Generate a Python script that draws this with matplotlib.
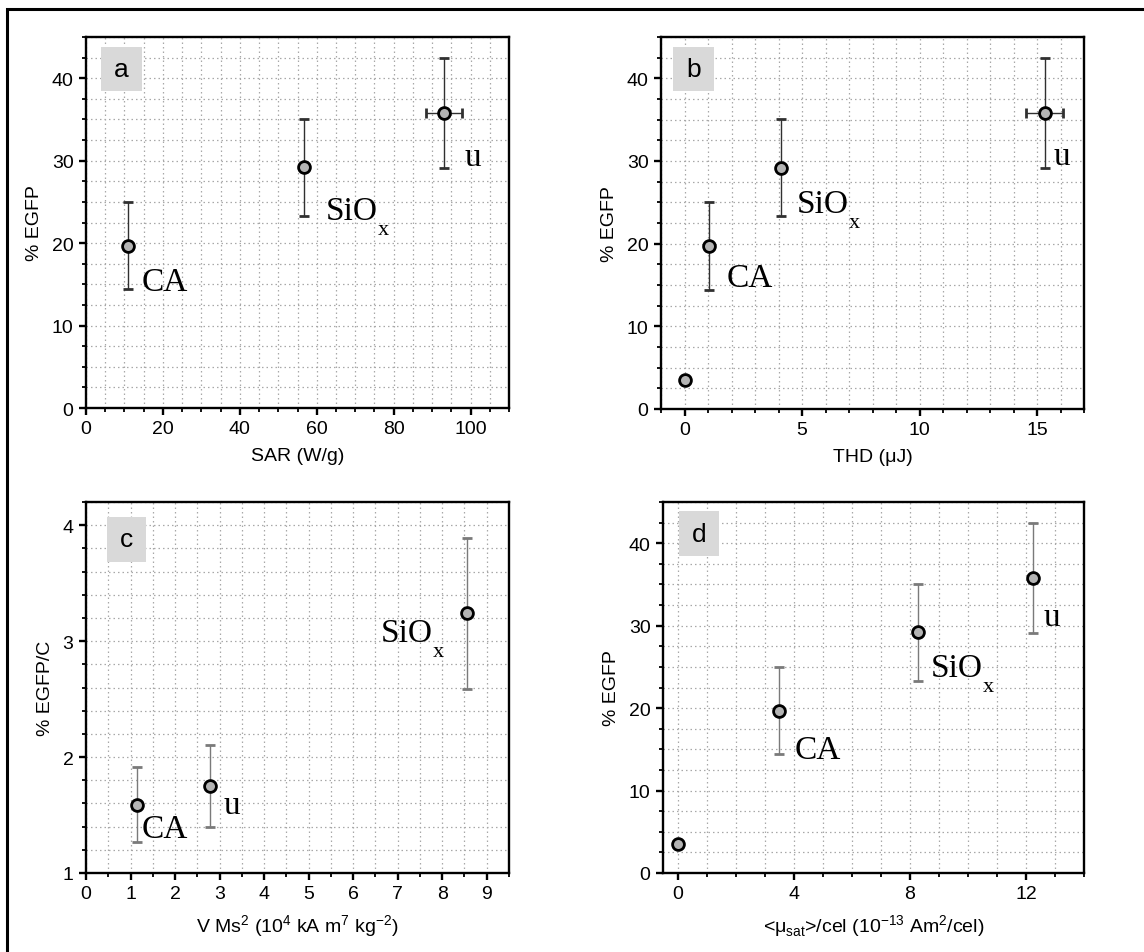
import matplotlib
matplotlib.use("Agg")
import matplotlib.pyplot as plt
from matplotlib.patches import Rectangle
from matplotlib.ticker import MultipleLocator
import numpy as np

plt.rcParams['font.family'] = ['Liberation Sans', 'DejaVu Sans']

# ---- data ----
names = ['CA', 'SiO', 'u']
subs = ['', 'x', '']

# a: SAR
sar = [10.8, 56.7, 93.1]
sar_xerr = [0, 0, 4.7]
egfp = [19.7, 29.2, 35.8]
egfp_err = [5.3, 5.9, 6.7]

# control point (no particles) shown in b and d
egfp_ctrl = 3.5

# b: THD
thd = [1.06, 4.1, 15.33]
thd_xerr = [0, 0, 0.78]

# c: V Ms^2
vms2 = [1.14, 8.55, 2.79]
egfp_c = [1.59, 3.24, 1.75]
egfp_c_err = [0.32, 0.65, 0.35]

# d: <mu_sat>/cel
mu_cel = [3.49, 8.28, 12.23]

W, H = 1144, 953
fig = plt.figure(figsize=(W / 100, H / 100), dpi=100)

# outer frame (cut at right and bottom like the original)
fig.patches.append(Rectangle((7 / W, -0.1), 1.2, 1 - 9.5 / H + 0.1,
                             transform=fig.transFigure, fill=False,
                             lw=2.2, ec='black', zorder=0))

SERIF = ['Liberation Serif', 'DejaVu Serif']


def px_axes(l, t, r, b):
    return fig.add_axes([l / W, 1 - b / H, (r - l) / W, (b - t) / H])


def style(ax, xlim, ylim, xmaj, xmin, ymaj, ymin, xlabel, ylabel, letter, box):
    ax.set_xlim(*xlim)
    ax.set_ylim(*ylim)
    ax.xaxis.set_major_locator(MultipleLocator(xmaj))
    ax.xaxis.set_minor_locator(MultipleLocator(xmin))
    ax.yaxis.set_major_locator(MultipleLocator(ymaj))
    ax.yaxis.set_minor_locator(MultipleLocator(ymin))
    ax.set_axisbelow(True)
    ax.grid(which='both', linestyle=(0, (1.2, 2.4)), color='#a8a8a8', lw=0.9)
    for s in ax.spines.values():
        s.set_linewidth(1.7)
    ax.tick_params(which='both', direction='out', top=False, right=False,
                   labelsize=14, pad=4)
    ax.tick_params(which='major', length=5, width=1.7)
    ax.tick_params(which='minor', length=3, width=1.3)
    ax.set_xlabel(xlabel, fontsize=14, labelpad=7)
    ax.set_ylabel(ylabel, fontsize=14, labelpad=6)
    x0, y0, x1, y1 = box
    ax.add_patch(Rectangle((x0, y0), x1 - x0, y1 - y0, transform=ax.transAxes,
                           fc='#d9d9d9', ec='none', zorder=3))
    ax.text((x0 + x1) / 2, (y0 + y1) / 2, letter, transform=ax.transAxes,
            ha='center', va='center', fontsize=19, zorder=4)


def points(ax, x, y, yerr, xerr=None, ecolor='#303030'):
    ax.errorbar(x, y, yerr=yerr, xerr=xerr, fmt='o', ms=8.5, mfc='#b4b4b4',
                mec='black', mew=2, ecolor=ecolor, elinewidth=1.0,
                capsize=3.5, capthick=1.0, zorder=5)


def labels(ax, x, y, offsets):
    for name, sub, xi, yi, off in zip(names, subs, x, y, offsets):
        ax.annotate(name, (xi, yi), xytext=off, textcoords='offset pixels',
                    ha='left', va='baseline', fontsize=24, family=SERIF,
                    zorder=6)
        if sub:
            ax.annotate(sub, (xi, yi), xytext=(off[0] + 52, off[1] - 15),
                        textcoords='offset pixels', ha='left', va='baseline',
                        fontsize=16, family=SERIF, zorder=6)


# a
ax = px_axes(86, 38, 509, 409)
style(ax, (0, 110), (0, 45), 20, 5, 10, 2.5, 'SAR (W/g)', '% EGFP', 'a',
      (0.035, 0.854, 0.132, 0.974))
points(ax, sar, egfp, egfp_err, sar_xerr)
labels(ax, sar, egfp, [(14, -44), (22, -52), (21, -52)])

# b
ax = px_axes(661, 38, 1084, 410)
style(ax, (-1, 17), (0, 45), 5, 1, 10, 2.5, 'THD (μJ)', '% EGFP', 'b',
      (0.028, 0.854, 0.125, 0.974))
points(ax, thd, egfp, egfp_err, thd_xerr)
ax.plot([0], [egfp_ctrl], 'o', ms=8.5, mfc='#b4b4b4', mec='black', mew=2, zorder=5)
labels(ax, thd, egfp, [(17, -40), (16, -44), (9, -51)])

# c
ax = px_axes(86, 503, 509, 874)
style(ax, (0, 9.5), (1, 4.2), 1, 0.5, 1, 0.2,
      'V Ms$^\\mathregular{2}$ (10$^\\mathregular{4}$ kA m$^\\mathregular{7}$ kg$^\\mathregular{-2}$)',
      '% EGFP/C', 'c', (0.049, 0.839, 0.141, 0.960))
points(ax, vms2, egfp_c, egfp_c_err, ecolor='#7a7a7a')
labels(ax, vms2, egfp_c, [(5, -32), (-86, -28), (13, -27)])

# d
ax = px_axes(663, 503, 1084, 874)
style(ax, (-0.5, 14), (0, 45), 4, 1, 10, 2.5,
      '<μ$_\\mathregular{sat}$>/cel (10$^\\mathregular{-13}$ Am$^\\mathregular{2}$/cel)',
      '% EGFP', 'd', (0.038, 0.854, 0.134, 0.976))
points(ax, mu_cel, egfp, egfp_err, ecolor='#7a7a7a')
ax.plot([0], [egfp_ctrl], 'o', ms=8.5, mfc='#b4b4b4', mec='black', mew=2, zorder=5)
labels(ax, mu_cel, egfp, [(16, -47), (13, -44), (11, -47)])

fig.savefig('out.png', dpi=100)
